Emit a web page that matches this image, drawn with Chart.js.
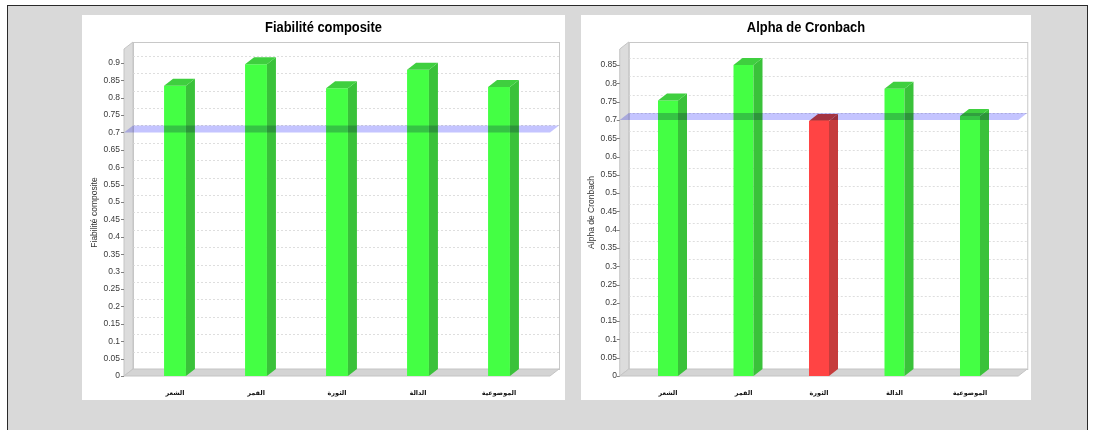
<!DOCTYPE html>
<html>
<head>
<meta charset="utf-8">
<script src="https://cdn.jsdelivr.net/npm/chart.js@4"></script>
<style>
  html, body { margin: 0; padding: 0; background: #ffffff; width: 1093px; height: 430px; overflow: hidden; }
  #frame { position: absolute; left: 7px; top: 5px; width: 1081px; height: 440px;
           background: #d9d9d9; border: 1px solid #2a2a2a; box-sizing: border-box; }
  canvas { position: absolute; background: #ffffff; }
  #left { left: 82px; top: 15px; }
  #right { left: 581px; top: 15px; }
</style>
</head>
<body>
<div id="frame"></div>
<canvas id="left" width="483" height="385"></canvas>
<canvas id="right" width="450" height="385"></canvas>
<script>
// Dimensions evaluated
const categories = ['الشعر', 'القمر', 'الثورة', 'الدالة', 'الموضوعية'];
// Composite reliability per dimension
const reliabilityValues = [0.834, 0.896, 0.827, 0.880, 0.831];
// Cronbach's alpha per dimension
const alphaValues = [0.753, 0.850, 0.697, 0.785, 0.711];
// Acceptance threshold shown as a band
const threshold = 0.7;
// Axis ranges and tick step
const reliabilityMax = 0.94;
const alphaMax = 0.894;
const tickStep = 0.05;

const GREEN = { front: '#44ff44', side: '#3ac23a', top: '#3fcf3f' };
const RED = { front: '#ff4444', side: '#c63c3c', top: '#d44242' };

const DX = 9, DY = 7, EXT = 10.5;

function colorsFor(values, key) {
  return values.map(v => (v < threshold ? RED[key] : GREEN[key]));
}

// Bold title drawn slightly condensed, centred over the canvas
const narrowTitle = {
  id: 'narrowTitle',
  afterDraw(chart, args, opts) {
    const ctx = chart.ctx;
    ctx.save();
    ctx.font = "bold 15px 'Liberation Sans', Arial, sans-serif";
    ctx.fillStyle = '#000000';
    ctx.textAlign = 'center';
    ctx.textBaseline = 'middle';
    ctx.translate(chart.width / 2, 13);
    ctx.scale(opts.squeeze, 1);
    ctx.fillText(opts.text, 0, 0);
    ctx.restore();
  }
};

const box3d = {
  id: 'box3d',
  beforeDatasetsDraw(chart) {
    const ctx = chart.ctx;
    const { left, right, top, bottom } = chart.chartArea;
    const fL = left - EXT, fR = right + EXT;
    const y = chart.scales.y;
    ctx.save();
    // back wall
    ctx.fillStyle = '#ffffff';
    ctx.fillRect(fL + DX, top - DY, fR - fL, bottom - top);
    ctx.strokeStyle = '#c8c8c8';
    ctx.lineWidth = 1;
    ctx.strokeRect(fL + DX + 0.5, top - DY + 0.5, fR - fL, bottom - top);
    // grid lines on the back wall
    ctx.strokeStyle = '#dedede';
    ctx.setLineDash([2, 2]);
    y.ticks.forEach(t => {
      if (t.value <= 0) return;
      const yy = Math.round(y.getPixelForValue(t.value) - DY) + 0.5;
      ctx.beginPath();
      ctx.moveTo(fL + DX, yy);
      ctx.lineTo(fR + DX, yy);
      ctx.stroke();
    });
    ctx.setLineDash([]);
    // left wall
    ctx.fillStyle = '#dcdcdc';
    ctx.strokeStyle = '#c4c4c4';
    ctx.beginPath();
    ctx.moveTo(fL, top);
    ctx.lineTo(fL + DX, top - DY);
    ctx.lineTo(fL + DX, bottom - DY);
    ctx.lineTo(fL, bottom);
    ctx.closePath();
    ctx.fill();
    ctx.stroke();
    // floor
    ctx.fillStyle = '#d4d4d4';
    ctx.beginPath();
    ctx.moveTo(fL, bottom);
    ctx.lineTo(fL + DX, bottom - DY);
    ctx.lineTo(fR + DX, bottom - DY);
    ctx.lineTo(fR, bottom);
    ctx.closePath();
    ctx.fill();
    ctx.stroke();
    // tick marks on the front axis
    ctx.strokeStyle = '#808080';
    y.ticks.forEach(t => {
      const yy = Math.round(y.getPixelForValue(t.value)) + 0.5;
      ctx.beginPath();
      ctx.moveTo(fL - 3, yy);
      ctx.lineTo(fL, yy);
      ctx.stroke();
    });
    ctx.restore();
  },
  afterDatasetsDraw(chart) {
    const ctx = chart.ctx;
    const { left, right } = chart.chartArea;
    const fL = left - EXT, fR = right + EXT;
    const ds = chart.data.datasets[0];
    const meta = chart.getDatasetMeta(0);
    ctx.save();
    meta.data.forEach((bar, i) => {
      const x0 = bar.x - bar.width / 2, x1 = bar.x + bar.width / 2;
      const yT = bar.y, yB = bar.base;
      // side face
      ctx.fillStyle = ds.sideColors[i];
      ctx.beginPath();
      ctx.moveTo(x1, yT);
      ctx.lineTo(x1 + DX, yT - DY);
      ctx.lineTo(x1 + DX, yB - DY);
      ctx.lineTo(x1, yB);
      ctx.closePath();
      ctx.fill();
      // top face
      ctx.fillStyle = ds.topColors[i];
      ctx.beginPath();
      ctx.moveTo(x0, yT);
      ctx.lineTo(x0 + DX, yT - DY);
      ctx.lineTo(x1 + DX, yT - DY);
      ctx.lineTo(x1, yT);
      ctx.closePath();
      ctx.fill();
    });
    // threshold band
    const yb = chart.scales.y.getPixelForValue(threshold);
    ctx.globalCompositeOperation = 'multiply';
    ctx.fillStyle = '#c4c4ff';
    ctx.beginPath();
    ctx.moveTo(fL, yb);
    ctx.lineTo(fL + DX, yb - DY);
    ctx.lineTo(fR + DX, yb - DY);
    ctx.lineTo(fR, yb);
    ctx.closePath();
    ctx.fill();
    ctx.restore();
  }
};

function makeChart(id, titleText, values, yMax, g) {
  return new Chart(document.getElementById(id), {
    type: 'bar',
    data: {
      labels: categories,
      datasets: [{
        data: values,
        backgroundColor: colorsFor(values, 'front'),
        sideColors: colorsFor(values, 'side'),
        topColors: colorsFor(values, 'top'),
        borderWidth: 0,
        barPercentage: g.barPct,
        categoryPercentage: 1
      }]
    },
    options: {
      responsive: false,
      animation: false,
      devicePixelRatio: 1,
      layout: { padding: { left: 0, right: g.padRight, top: 34, bottom: 0 } },
      plugins: {
        legend: { display: false },
        tooltip: { enabled: false },
        title: { display: false },
        narrowTitle: { text: titleText, squeeze: 0.86 }
      },
      scales: {
        x: {
          offset: true,
          grid: { display: false },
          border: { display: false },
          ticks: {
            color: '#111111',
            padding: 5,
            maxRotation: 0,
            font: { family: "'DejaVu Sans', sans-serif", size: 6.5, weight: 'bold' }
          },
          afterFit(scale) { scale.height = 24; }
        },
        y: {
          min: 0,
          max: yMax,
          grid: { display: false, drawTicks: false },
          border: { display: false },
          ticks: {
            stepSize: tickStep,
            padding: g.tickPad,
            color: '#3a3a3a',
            font: { family: "'Liberation Sans', Arial, sans-serif", size: 8.5 },
            callback: v => String(Math.round(v * 100) / 100)
          },
          afterBuildTicks(scale) {
            scale.ticks = scale.ticks.filter(t => {
              const k = t.value / tickStep;
              return Math.abs(k - Math.round(k)) < 1e-6;
            });
          },
          title: {
            display: true,
            text: titleText,
            color: '#333333',
            font: { family: "'Liberation Sans', Arial, sans-serif", size: 8.5 },
            padding: { top: g.titlePad, bottom: 0 }
          },
          afterFit(scale) { scale.width = g.yWidth; }
        }
      }
    },
    plugins: [box3d, narrowTitle]
  });
}

makeChart('left', 'Fiabilité composite', reliabilityValues, reliabilityMax,
  { yWidth: 52.5, tickPad: 14.5, titlePad: 7.8, padRight: 25.5, barPct: 0.27 });
makeChart('right', 'Alpha de Cronbach', alphaValues, alphaMax,
  { yWidth: 49.25, tickPad: 13.25, titlePad: 5.8, padRight: 23.25, barPct: 0.265 });
</script>
</body>
</html>
